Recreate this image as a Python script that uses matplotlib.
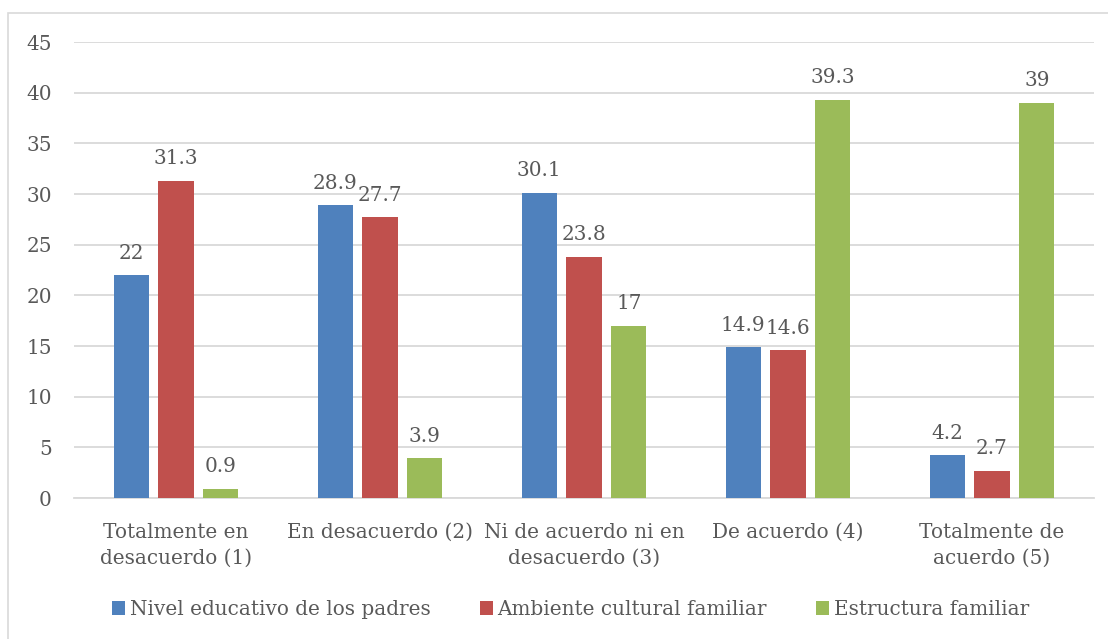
import matplotlib
matplotlib.use("Agg")
import matplotlib.pyplot as plt
import numpy as np
from matplotlib.patches import Rectangle

categories = ["Totalmente en\ndesacuerdo (1)", "En desacuerdo (2)", "Ni de acuerdo ni en\ndesacuerdo (3)",
              "De acuerdo (4)", "Totalmente de\nacuerdo (5)"]
series_names = ["Nivel educativo de los padres", "Ambiente cultural familiar", "Estructura familiar"]
nivel = [22, 28.9, 30.1, 14.9, 4.2]
ambiente = [31.3, 27.7, 23.8, 14.6, 2.7]
estructura = [0.9, 3.9, 17, 39.3, 39]
yticks = [0, 5, 10, 15, 20, 25, 30, 35, 40, 45]

colors = ["#4F81BD", "#C0504D", "#9BBB59"]
text_color = "#595959"
grid_color = "#D9D9D9"
font = "DejaVu Serif"
fs = 14.4

W, H = 1108, 639
fig = plt.figure(figsize=(W / 100, H / 100), dpi=100)
fig.patch.set_facecolor("white")

# outer chart border
fig.add_artist(Rectangle((8 / W, -0.1), 1.2, 1 - 13 / H + 0.1, transform=fig.transFigure,
                         fill=False, edgecolor="#D9D9D9", linewidth=1.2))

ax = fig.add_axes([74 / W, (H - 498) / H, 1020 / W, 456 / H])
x = np.arange(len(categories))
bw = 0.172
step = 0.22
for i, (vals, c, name) in enumerate(zip([nivel, ambiente, estructura], colors, series_names)):
    bars = ax.bar(x + (i - 1) * step, vals, width=bw, color=c, label=name, zorder=3)
    for b, v in zip(bars, vals):
        ax.annotate(f"{v:g}", (b.get_x() + b.get_width() / 2, v), xytext=(0, 9),
                    textcoords="offset points", ha="center", va="bottom",
                    fontsize=fs, color=text_color, family=font)

ax.set_xlim(-0.5, len(categories) - 0.5)
ax.set_ylim(0, 45)
ax.set_yticks(yticks)
ax.set_yticklabels([str(t) for t in yticks], fontsize=fs, color=text_color, family=font)
ax.set_xticks(x)
ax.set_xticklabels(categories, fontsize=fs, color=text_color, family=font, linespacing=1.45)
ax.tick_params(axis="both", length=0)
ax.tick_params(axis="y", pad=16)
ax.tick_params(axis="x", pad=18)
ax.grid(axis="y", color=grid_color, linewidth=1.3, zorder=0)
for s in ["top", "right", "left"]:
    ax.spines[s].set_visible(False)
ax.spines["bottom"].set_color(grid_color)
ax.spines["bottom"].set_linewidth(1.3)

leg = fig.legend(loc="center", bbox_to_anchor=(570.5 / W, 1 - 609.5 / H), ncol=3, frameon=False,
                 prop={"family": font, "size": fs}, handlelength=0.65, handleheight=0.65,
                 handletextpad=0.25, columnspacing=2.45)
for t in leg.get_texts():
    t.set_color(text_color)

fig.savefig("out.png", dpi=100)
